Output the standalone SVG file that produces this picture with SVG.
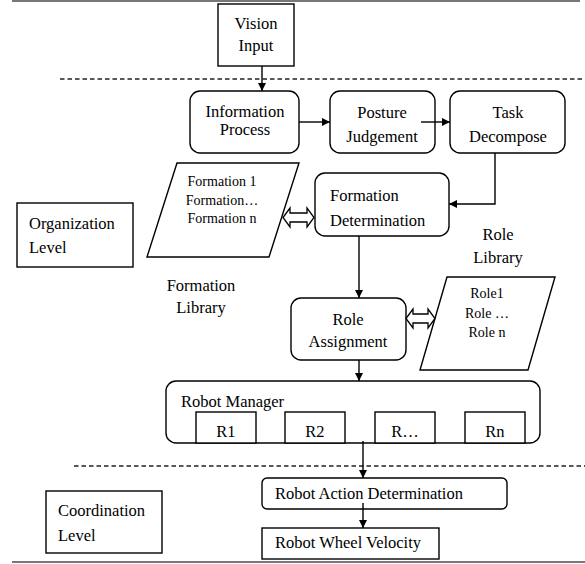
<svg xmlns="http://www.w3.org/2000/svg" width="585" height="564" viewBox="0 0 585 564">
<style>
.box{fill:#fff;stroke:#000;stroke-width:1.4}
.t{font-family:"Liberation Serif","Times New Roman",serif;font-size:16.5px;fill:#000}
.s{font-family:"Liberation Serif","Times New Roman",serif;font-size:14px;fill:#000}
.c{text-anchor:middle}
.ln{fill:none;stroke:#000;stroke-width:1.4}
.dash{fill:none;stroke:#222;stroke-width:1.3;stroke-dasharray:4.5 3}
.rule{stroke:#777;stroke-width:2}
.hollow{fill:#fff;stroke:#000;stroke-width:1.3}
</style>
<defs>
<marker id="ah" markerUnits="userSpaceOnUse" markerWidth="9" markerHeight="9" refX="8" refY="4" orient="auto">
<path d="M0,0 L8,4 L0,8 Z" fill="#000"/>
</marker>
</defs>
<rect width="585" height="564" fill="#fff"/>
<line class="rule" x1="12" y1="1" x2="580" y2="1"/>
<line class="rule" x1="12" y1="562" x2="585" y2="562"/>
<line class="dash" x1="60" y1="79" x2="585" y2="79"/>
<line class="dash" x1="74" y1="466" x2="585" y2="466"/>

<g id="vision-input">
<rect class="box" x="218" y="4" width="76" height="62"/>
<text class="t c" x="256" y="29">Vision</text>
<text class="t c" x="256" y="51">Input</text>
</g>
<g id="information-process">
<rect class="box" x="190" y="91" width="109" height="62" rx="10"/>
<text class="t c" x="245" y="117">Information</text>
<text class="t c" x="245" y="135">Process</text>
</g>
<g id="posture-judgement">
<rect class="box" x="330" y="91" width="105" height="62" rx="10"/>
<text class="t c" x="382" y="118">Posture</text>
<text class="t c" x="382" y="142">Judgement</text>
</g>
<g id="task-decompose">
<rect class="box" x="450" y="91" width="115" height="62" rx="10"/>
<text class="t c" x="508" y="118">Task</text>
<text class="t c" x="508" y="142">Decompose</text>
</g>
<g id="formation-library">
<polygon class="box" points="177,163 299,163 269,257 147,257"/>
<text class="s c" x="222" y="186">Formation 1</text>
<text class="s c" x="222" y="205">Formation…</text>
<text class="s c" x="222" y="223">Formation n</text>
</g>
<g id="formation-library-label">
<text class="t c" x="201" y="291">Formation</text>
<text class="t c" x="201" y="313">Library</text>
</g>
<g id="organization-level">
<rect class="box" x="17" y="203" width="116" height="64"/>
<text class="t" x="29" y="229">Organization</text>
<text class="t" x="29" y="253">Level</text>
</g>
<g id="formation-determination">
<rect class="box" x="315" y="173" width="134" height="63" rx="10"/>
<text class="t" x="330" y="201">Formation</text>
<text class="t" x="330" y="226">Determination</text>
</g>
<g id="role-library-label">
<text class="t c" x="498" y="240">Role</text>
<text class="t c" x="498" y="263">Library</text>
</g>
<g id="role-assignment">
<rect class="box" x="291" y="298" width="115" height="62" rx="10"/>
<text class="t c" x="348" y="325">Role</text>
<text class="t c" x="348" y="347">Assignment</text>
</g>
<g id="role-library">
<polygon class="box" points="447,277 555,277 528,370 420,370"/>
<text class="s c" x="487" y="298">Role1</text>
<text class="s c" x="487" y="318">Role …</text>
<text class="s c" x="487" y="337">Role n</text>
</g>
<g id="robot-manager">
<rect class="box" x="166" y="381" width="374" height="62" rx="10"/>
<text class="t" x="181" y="407">Robot Manager</text>
<rect class="box" x="196" y="412" width="60" height="31"/>
<text class="t c" x="226" y="437">R1</text>
<rect class="box" x="285" y="412" width="60" height="31"/>
<text class="t c" x="315" y="437">R2</text>
<rect class="box" x="375" y="412" width="60" height="31"/>
<text class="t c" x="405" y="437">R…</text>
<rect class="box" x="465" y="412" width="60" height="31"/>
<text class="t c" x="495" y="437">Rn</text>
</g>
<g id="coordination-level">
<rect class="box" x="46" y="491" width="116" height="62"/>
<text class="t" x="58" y="516">Coordination</text>
<text class="t" x="58" y="541">Level</text>
</g>
<g id="robot-action-determination">
<rect class="box" x="262" y="478" width="245" height="31" rx="5"/>
<text class="t" x="275" y="499">Robot Action Determination</text>
</g>
<g id="robot-wheel-velocity">
<rect class="box" x="262" y="528" width="177" height="31"/>
<text class="t" x="275" y="548">Robot Wheel Velocity</text>
</g>

<g id="connectors">
<path class="ln" d="M262,66 V91" marker-end="url(#ah)"/>
<path class="ln" d="M299,122 H330" marker-end="url(#ah)"/>
<path class="ln" d="M421,122 H450" marker-end="url(#ah)"/>
<path class="ln" d="M495,153 V204 H449" marker-end="url(#ah)"/>
<path class="ln" d="M359,236 V298" marker-end="url(#ah)"/>
<path class="ln" d="M359,360 V381" marker-end="url(#ah)"/>
<path class="ln" d="M363,441 V478" marker-end="url(#ah)"/>
<path class="ln" d="M363,503 V528" marker-end="url(#ah)"/>
<path class="hollow" d="M283,217.5 L290,208 L290,213 L307,213 L307,208 L314,217.5 L307,227 L307,222 L290,222 L290,227 Z"/>
<path class="hollow" d="M406,318.5 L413,309 L413,314 L428,314 L428,309 L435,318.5 L428,328 L428,323 L413,323 L413,328 Z"/>
</g>
</svg>
